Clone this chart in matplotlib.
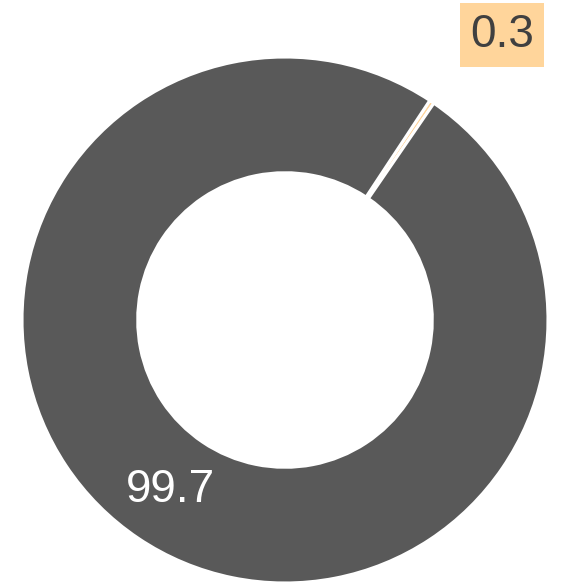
import numpy as np
import matplotlib.pyplot as plt

plt.rcParams['font.family'] = ['Liberation Sans', 'DejaVu Sans']

# data
labels = ['0.3', '99.7']
values = [0.3, 99.7]
colors = ['#FFD59B', '#595959']

fig = plt.figure(figsize=(5.64, 5.84), dpi=100)
ax = fig.add_axes([0, 0, 1, 1])

wedges, _ = ax.pie(values, colors=colors, startangle=56.6, counterclock=False,
                   radius=1, wedgeprops=dict(width=0.44, edgecolor='white', linewidth=2.2))

# pie() resets the limits, so set them afterwards (263 px per unit, centre at 285,320)
R = 263.0
ax.set_xlim(-285 / R, (564 - 285) / R)
ax.set_ylim(-(584 - 320) / R, 320 / R)
ax.set_aspect('equal')
ax.axis('off')

# labels: big slice inside the ring, small slice outside with a box
for w, lab in zip(wedges, labels):
    mid = np.deg2rad((w.theta1 + w.theta2) / 2)
    if lab == '99.7':
        r = 0.78
        ax.text(r * np.cos(mid), r * np.sin(mid), lab, ha='center', va='center',
                fontsize=33, color='white')
    else:
        ax.text(0.826, 1.085, lab, ha='center', va='center', fontsize=33, color='#404040',
                bbox=dict(boxstyle='square,pad=0.22', facecolor='#FFD59B', edgecolor='none'))

fig.savefig('out.png', dpi=100)
